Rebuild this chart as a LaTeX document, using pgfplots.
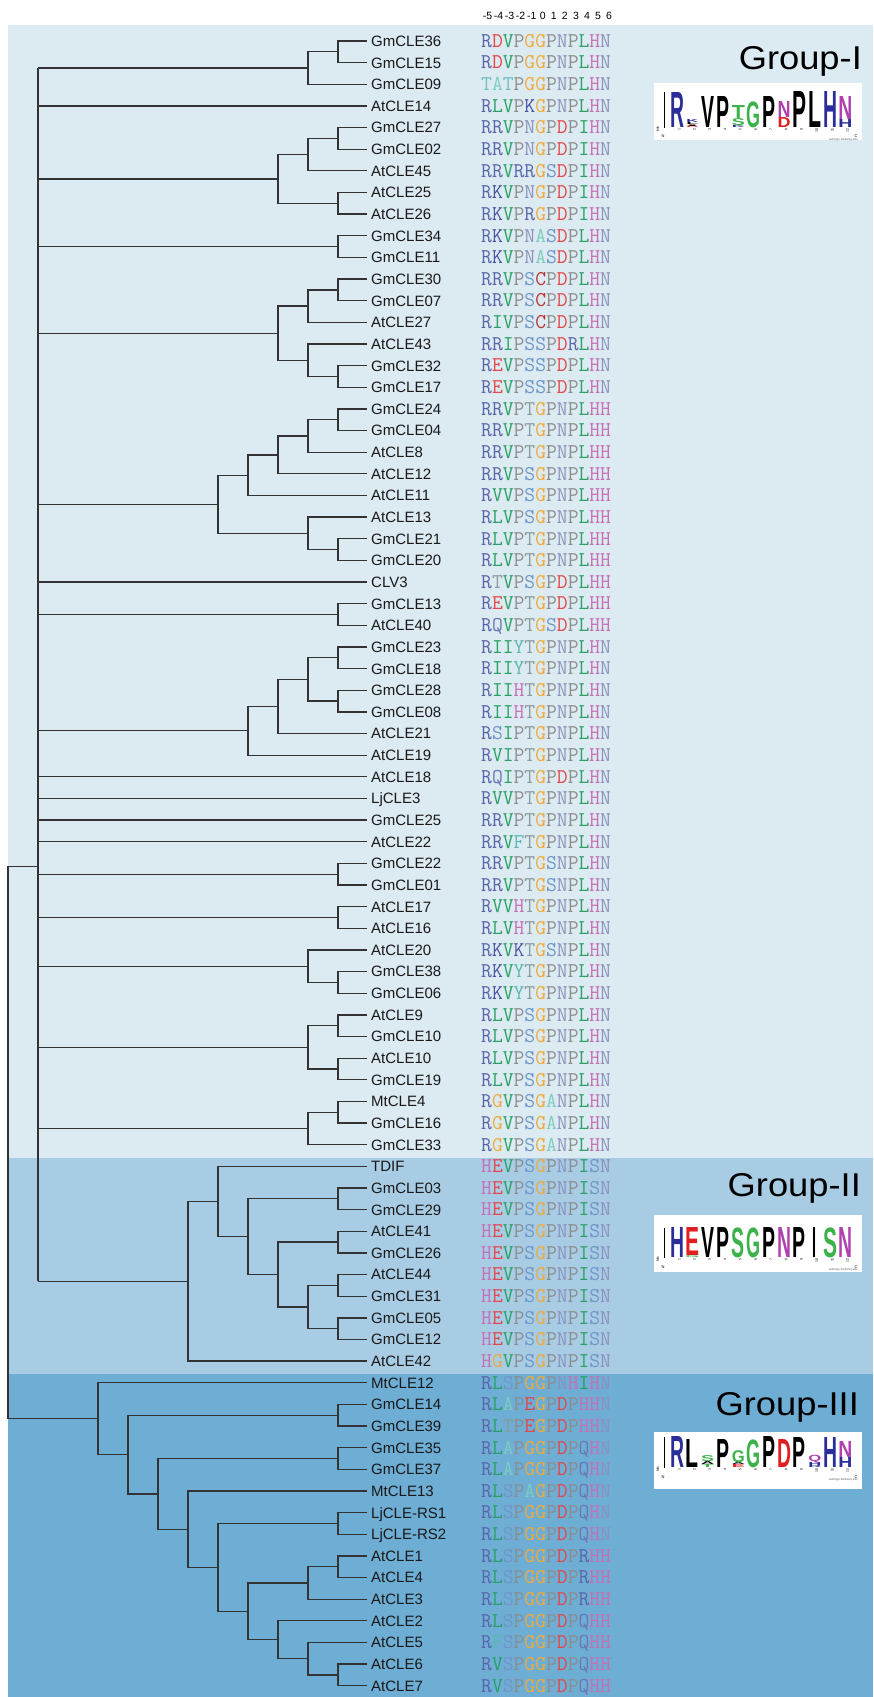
\documentclass[border=0pt]{standalone}
\usepackage{pgfplots}
\pgfplotsset{compat=1.18}
\usepackage{graphicx}
\usepackage{fontspec}
\setmainfont{Liberation Sans}

\definecolor{gI}{HTML}{DCEAF1}
\definecolor{gII}{HTML}{A8CCE4}
\definecolor{gIII}{HTML}{6EADD4}
\definecolor{treec}{HTML}{333333}
% residue colours of the alignment
\definecolor{sR}{HTML}{5A64AA}
\definecolor{sK}{HTML}{4650A0}
\definecolor{sD}{HTML}{E64646}
\definecolor{sE}{HTML}{E64646}
\definecolor{sC}{HTML}{B83232}
\definecolor{sV}{HTML}{28A064}
\definecolor{sL}{HTML}{28A064}
\definecolor{sI}{HTML}{28A064}
\definecolor{sP}{HTML}{8C8C8C}
\definecolor{sG}{HTML}{F0AA3C}
\definecolor{sN}{HTML}{8C90BE}
\definecolor{sH}{HTML}{C86EB4}
\definecolor{sT}{HTML}{8C9A9C}
\definecolor{st}{HTML}{6EBEBE}
\definecolor{sS}{HTML}{6E96C8}
\definecolor{sA}{HTML}{7CCDC0}
\definecolor{sQ}{HTML}{6A78B4}
\definecolor{sY}{HTML}{5AB8B0}
\definecolor{sF}{HTML}{5AB8B0}
% logo colours
\definecolor{lB}{HTML}{2A2E9A}
\definecolor{lR}{HTML}{E02020}
\definecolor{lG}{HTML}{3CB34A}
\definecolor{lM}{HTML}{B040B0}
\definecolor{lK}{HTML}{000000}

\def\seq#1{\seqloop#1\relax}
\def\seqloop#1{\ifx\relax#1\else\textcolor{s#1}{\uppercase{#1}}\expandafter\seqloop\fi}

\pgfplotsset{tree/.style={draw=treec, line width=1.3pt, no markers, line join=miter}}
\newcommand{\Ub}[5]{\addplot[tree] coordinates {(#1,#2) (#3,#2) (#3,#4) (#5,#4)};}
\newcommand{\Hl}[3]{\addplot[tree] coordinates {(#1,#3) (#2,#3)};}
\newcommand{\leaf}[3]{%
 \node[anchor=base west, inner sep=0pt, yshift=-5.4pt, font=\fontsize{15}{18}\selectfont, text=black!90] at (axis cs:371,#1) {#2};
 \node[anchor=base west, inner sep=0pt, yshift=-6.3pt, font=\ttfamily\fontsize{21}{24}\selectfont] at (axis cs:481,#1) {\seq{#3}};}
\newcommand{\hd}[2]{\node[anchor=base, inner sep=0pt, font=\fontsize{10.5}{12}\selectfont] at (axis cs:#1,0) {#2};}
% logo letter: x-centre, baseline row, bottom offset, width, height, colour, letter
\newcommand{\lgl}[7]{\node[anchor=south, inner sep=0pt, yshift=#3pt] at (axis cs:#1,#2) {\resizebox*{#4pt}{#5pt}{\color{#6}\bfseries #7}};}
\newcommand{\grp}[3]{\node[anchor=base east, inner sep=0pt, font=\fontsize{33}{36}\selectfont] at (axis cs:#1,#2) {\scalebox{1.1}[1]{#3}};}
% logo frame: box top row, box bottom row, baseline row, axis top row
\newcommand{\logoframe}[4]{%
 \addplot[fill=white, draw=none] coordinates {(654,#1) (862,#1) (862,#2) (654,#2)};
 \addplot[black, line width=0.5pt] coordinates {(664,#3) (664,#4)};
 \node[anchor=south, rotate=90, inner sep=0pt, font=\fontsize{3.5}{4}\selectfont, xshift=-1pt] at (axis cs:659,#3) {bits};
 \node[anchor=north, inner sep=0pt, yshift=-7pt, font=\fontsize{4}{4}\selectfont] at (axis cs:663,#3) {N};
 \node[anchor=north, inner sep=0pt, yshift=-7pt, font=\fontsize{4}{4}\selectfont] at (axis cs:856,#3) {C};
 \node[anchor=north east, inner sep=0pt, yshift=-10pt, font=\fontsize{3}{3}\selectfont, text=black!60] at (axis cs:858,#3) {weblogo.berkeley.edu};
 \node[anchor=east, rotate=90, inner sep=0pt, yshift=-2pt, font=\fontsize{3.5}{4}\selectfont] at (axis cs:677,#3) {1};
 \node[anchor=east, rotate=90, inner sep=0pt, yshift=-2pt, font=\fontsize{3.5}{4}\selectfont] at (axis cs:692.3,#3) {2};
 \node[anchor=east, rotate=90, inner sep=0pt, yshift=-2pt, font=\fontsize{3.5}{4}\selectfont] at (axis cs:707.6,#3) {3};
 \node[anchor=east, rotate=90, inner sep=0pt, yshift=-2pt, font=\fontsize{3.5}{4}\selectfont] at (axis cs:722.9,#3) {4};
 \node[anchor=east, rotate=90, inner sep=0pt, yshift=-2pt, font=\fontsize{3.5}{4}\selectfont] at (axis cs:738.2,#3) {5};
 \node[anchor=east, rotate=90, inner sep=0pt, yshift=-2pt, font=\fontsize{3.5}{4}\selectfont] at (axis cs:753.5,#3) {6};
 \node[anchor=east, rotate=90, inner sep=0pt, yshift=-2pt, font=\fontsize{3.5}{4}\selectfont] at (axis cs:768.8,#3) {7};
 \node[anchor=east, rotate=90, inner sep=0pt, yshift=-2pt, font=\fontsize{3.5}{4}\selectfont] at (axis cs:784.1,#3) {8};
 \node[anchor=east, rotate=90, inner sep=0pt, yshift=-2pt, font=\fontsize{3.5}{4}\selectfont] at (axis cs:799.4,#3) {9};
 \node[anchor=east, rotate=90, inner sep=0pt, yshift=-2pt, font=\fontsize{3.5}{4}\selectfont] at (axis cs:814.7,#3) {10};
 \node[anchor=east, rotate=90, inner sep=0pt, yshift=-2pt, font=\fontsize{3.5}{4}\selectfont] at (axis cs:830,#3) {11};
 \node[anchor=east, rotate=90, inner sep=0pt, yshift=-2pt, font=\fontsize{3.5}{4}\selectfont] at (axis cs:845.3,#3) {12};}

\begin{document}
\begin{tikzpicture}
\begin{axis}[x=1pt, y=21.64pt, y dir=reverse, xmin=0, xmax=873, ymin=-0.8946, ymax=77.52,
  hide axis, clip=false]
% backgrounds
\addplot[fill=white, draw=none] coordinates {(0,-0.8946) (873,-0.8946) (873,77.52) (0,77.52)};
\addplot[fill=gI, draw=none] coordinates {(8,0.2606) (873,0.2606) (873,52.63) (8,52.63)};
\addplot[fill=gII, draw=none] coordinates {(8,52.63) (873,52.63) (873,62.61) (8,62.61)};
\addplot[fill=gIII, draw=none] coordinates {(8,62.61) (873,62.61) (873,77.52) (8,77.52)};

% ---------------- tree: Group I ----------------
\Ub{367}{1}{338}{2}{367} \Ub{338}{1.5}{308}{3}{367} \Hl{38}{308}{2.25}
\Hl{38}{367}{4}
\Ub{367}{5}{338}{6}{367} \Ub{338}{5.5}{308}{7}{367} \Ub{367}{8}{338}{9}{367} \Ub{308}{6.25}{278}{8.5}{338} \Hl{38}{278}{7.375}
\Ub{367}{10}{338}{11}{367} \Hl{38}{338}{10.5}
\Ub{367}{12}{338}{13}{367} \Ub{338}{12.5}{308}{14}{367} \Ub{367}{16}{338}{17}{367} \Ub{367}{15}{308}{16.5}{338} \Ub{308}{13.25}{278}{15.75}{308} \Hl{38}{278}{14.5}
\Ub{367}{18}{338}{19}{367} \Ub{338}{18.5}{308}{20}{367} \Ub{308}{19.25}{278}{21}{367} \Ub{278}{20.125}{248}{22}{367}
\Ub{367}{24}{338}{25}{367} \Ub{367}{23}{308}{24.5}{338} \Ub{248}{21.0625}{218}{23.75}{308} \Hl{38}{218}{22.40625}
\Hl{38}{367}{26}
\Ub{367}{27}{338}{28}{367} \Hl{38}{338}{27.5}
\Ub{367}{29}{338}{30}{367} \Ub{367}{31}{338}{32}{367} \Ub{338}{29.5}{308}{31.5}{338} \Ub{308}{30.5}{278}{33}{367} \Ub{278}{31.75}{248}{34}{367} \Hl{38}{248}{32.875}
\Hl{38}{367}{35} \Hl{38}{367}{36} \Hl{38}{367}{37} \Hl{38}{367}{38}
\Ub{367}{39}{338}{40}{367} \Hl{38}{338}{39.5}
\Ub{367}{41}{338}{42}{367} \Hl{38}{338}{41.5}
\Ub{367}{44}{338}{45}{367} \Ub{367}{43}{308}{44.5}{338} \Hl{38}{308}{43.75}
\Ub{367}{46}{338}{47}{367} \Ub{367}{48}{338}{49}{367} \Ub{338}{46.5}{308}{48.5}{338} \Hl{38}{308}{47.5}
\Ub{367}{50}{338}{51}{367} \Ub{338}{50.5}{308}{52}{367} \Hl{38}{308}{51.25}
% ---------------- Group II ----------------
\Ub{367}{54}{338}{55}{367} \Ub{367}{56}{338}{57}{367} \Ub{367}{58}{338}{59}{367} \Ub{367}{60}{338}{61}{367}
\Ub{338}{58.5}{308}{60.5}{338} \Ub{338}{56.5}{278}{59.5}{308} \Ub{338}{54.5}{248}{58}{278}
\Ub{367}{53}{218}{56.25}{248} \Ub{218}{54.625}{188}{62}{367} \Hl{38}{188}{58.3125}
% polytomy and root
\addplot[tree] coordinates {(38,2.25) (38,58.3125)};
\Ub{38}{39.16}{8}{64.658}{98}
% ---------------- Group III ----------------
\Ub{367}{76}{338}{77}{367} \Ub{367}{75}{308}{76.5}{338} \Ub{367}{74}{278}{75.75}{308}
\Ub{367}{71}{338}{72}{367} \Ub{338}{71.5}{308}{73}{367} \Ub{308}{72.25}{248}{74.875}{278}
\Ub{367}{69}{338}{70}{367} \Ub{338}{69.5}{218}{73.5625}{248} \Ub{367}{68}{188}{71.53125}{218}
\Ub{367}{66}{338}{67}{367} \Ub{338}{66.5}{158}{69.765625}{188}
\Ub{367}{64}{338}{65}{367} \Ub{338}{64.5}{128}{68.1328}{158}
\Ub{367}{63}{98}{66.3164}{128}

% ---------------- header ----------------
\hd{487.5}{-5}\hd{498.6}{-4}\hd{509.6}{-3}\hd{520.6}{-2}\hd{531.7}{-1}\hd{542.7}{0}
\hd{553.8}{1}\hd{564.8}{2}\hd{575.9}{3}\hd{586.9}{4}\hd{598.0}{5}\hd{609.0}{6}

% ---------------- leaves ----------------
\leaf{1}{GmCLE36}{RDVPGGPNPLHN}
\leaf{2}{GmCLE15}{RDVPGGPNPLHN}
\leaf{3}{GmCLE09}{tAtPGGPNPLHN}
\leaf{4}{AtCLE14}{RLVPKGPNPLHN}
\leaf{5}{GmCLE27}{RRVPNGPDPIHN}
\leaf{6}{GmCLE02}{RRVPNGPDPIHN}
\leaf{7}{AtCLE45}{RRVRRGSDPIHN}
\leaf{8}{AtCLE25}{RKVPNGPDPIHN}
\leaf{9}{AtCLE26}{RKVPRGPDPIHN}
\leaf{10}{GmCLE34}{RKVPNASDPLHN}
\leaf{11}{GmCLE11}{RKVPNASDPLHN}
\leaf{12}{GmCLE30}{RRVPSCPDPLHN}
\leaf{13}{GmCLE07}{RRVPSCPDPLHN}
\leaf{14}{AtCLE27}{RIVPSCPDPLHN}
\leaf{15}{AtCLE43}{RRIPSSPDRLHN}
\leaf{16}{GmCLE32}{REVPSSPDPLHN}
\leaf{17}{GmCLE17}{REVPSSPDPLHN}
\leaf{18}{GmCLE24}{RRVPTGPNPLHH}
\leaf{19}{GmCLE04}{RRVPTGPNPLHH}
\leaf{20}{AtCLE8}{RRVPTGPNPLHH}
\leaf{21}{AtCLE12}{RRVPSGPNPLHH}
\leaf{22}{AtCLE11}{RVVPSGPNPLHH}
\leaf{23}{AtCLE13}{RLVPSGPNPLHH}
\leaf{24}{GmCLE21}{RLVPTGPNPLHH}
\leaf{25}{GmCLE20}{RLVPTGPNPLHH}
\leaf{26}{CLV3}{RTVPSGPDPLHH}
\leaf{27}{GmCLE13}{REVPTGPDPLHH}
\leaf{28}{AtCLE40}{RQVPTGSDPLHH}
\leaf{29}{GmCLE23}{RIIYTGPNPLHN}
\leaf{30}{GmCLE18}{RIIYTGPNPLHN}
\leaf{31}{GmCLE28}{RIIHTGPNPLHN}
\leaf{32}{GmCLE08}{RIIHTGPNPLHN}
\leaf{33}{AtCLE21}{RSIPTGPNPLHN}
\leaf{34}{AtCLE19}{RVIPTGPNPLHN}
\leaf{35}{AtCLE18}{RQIPTGPDPLHN}
\leaf{36}{LjCLE3}{RVVPTGPNPLHN}
\leaf{37}{GmCLE25}{RRVPTGPNPLHN}
\leaf{38}{AtCLE22}{RRVFTGPNPLHN}
\leaf{39}{GmCLE22}{RRVPTGSNPLHN}
\leaf{40}{GmCLE01}{RRVPTGSNPLHN}
\leaf{41}{AtCLE17}{RVVHTGPNPLHN}
\leaf{42}{AtCLE16}{RLVHTGPNPLHN}
\leaf{43}{AtCLE20}{RKVKTGSNPLHN}
\leaf{44}{GmCLE38}{RKVYTGPNPLHN}
\leaf{45}{GmCLE06}{RKVYTGPNPLHN}
\leaf{46}{AtCLE9}{RLVPSGPNPLHN}
\leaf{47}{GmCLE10}{RLVPSGPNPLHN}
\leaf{48}{AtCLE10}{RLVPSGPNPLHN}
\leaf{49}{GmCLE19}{RLVPSGPNPLHN}
\leaf{50}{MtCLE4}{RGVPSGANPLHN}
\leaf{51}{GmCLE16}{RGVPSGANPLHN}
\leaf{52}{GmCLE33}{RGVPSGANPLHN}
\leaf{53}{TDIF}{HEVPSGPNPISN}
\leaf{54}{GmCLE03}{HEVPSGPNPISN}
\leaf{55}{GmCLE29}{HEVPSGPNPISN}
\leaf{56}{AtCLE41}{HEVPSGPNPISN}
\leaf{57}{GmCLE26}{HEVPSGPNPISN}
\leaf{58}{AtCLE44}{HEVPSGPNPISN}
\leaf{59}{GmCLE31}{HEVPSGPNPISN}
\leaf{60}{GmCLE05}{HEVPSGPNPISN}
\leaf{61}{GmCLE12}{HEVPSGPNPISN}
\leaf{62}{AtCLE42}{HGVPSGPNPISN}
\leaf{63}{MtCLE12}{RLSPGGPNHIHN}
\leaf{64}{GmCLE14}{RLAPEGPDPHHN}
\leaf{65}{GmCLE39}{RLTPEGPDPHHN}
\leaf{66}{GmCLE35}{RLAPGGPDPQHN}
\leaf{67}{GmCLE37}{RLAPGGPDPQHN}
\leaf{68}{MtCLE13}{RLSPAGPDPQHN}
\leaf{69}{LjCLE-RS1}{RLSPGGPDPQHN}
\leaf{70}{LjCLE-RS2}{RLSPGGPDPQHN}
\leaf{71}{AtCLE1}{RLSPGGPDPRHH}
\leaf{72}{AtCLE4}{RLSPGGPDPRHH}
\leaf{73}{AtCLE3}{RLSPGGPDPRHH}
\leaf{74}{AtCLE2}{RLSPGGPDPQHH}
\leaf{75}{AtCLE5}{RFSPGGPDPQHH}
\leaf{76}{AtCLE6}{RVSPGGPDPQHH}
\leaf{77}{AtCLE7}{RVSPGGPDPQHH}

% ---------------- group labels ----------------
\grp{862}{2.308}{Group-I}
\grp{861}{54.41}{Group-II}
\grp{859}{64.49}{Group-III}

% ---------------- logos ----------------
\logoframe{2.941}{5.575}{5.020}{3.357}
\logoframe{55.25}{57.89}{57.24}{55.85}
\logoframe{65.28}{67.91}{66.94}{65.51}
% logo I
\lgl{677}{5.020}{0}{14}{35}{lB}{R}
\lgl{692.3}{5.020}{0}{12}{1.5}{lR}{D}
\lgl{692.3}{5.020}{1.5}{12}{1.5}{lK}{I}
\lgl{692.3}{5.020}{3}{12}{2}{lK}{L}
\lgl{692.3}{5.020}{5}{12}{3}{lB}{K}
\lgl{707.6}{5.020}{0}{13}{31}{lK}{V}
\lgl{722.9}{5.020}{0}{13}{31}{lK}{P}
\lgl{738.2}{5.020}{0}{13}{2}{lB}{K}
\lgl{738.2}{5.020}{2}{13}{7}{lG}{S}
\lgl{738.2}{5.020}{9}{13}{13}{lG}{T}
\lgl{753.5}{5.020}{0}{14}{26}{lG}{G}
\lgl{768.8}{5.020}{0}{13}{31}{lK}{P}
\lgl{784.1}{5.020}{0}{13}{10}{lR}{D}
\lgl{784.1}{5.020}{10}{13}{16}{lM}{N}
\lgl{799.4}{5.020}{0}{14}{36}{lK}{P}
\lgl{814.7}{5.020}{0}{13}{36}{lK}{L}
\lgl{830}{5.020}{0}{14}{36}{lB}{H}
\lgl{845.3}{5.020}{0}{14}{8}{lB}{H}
\lgl{845.3}{5.020}{8}{14}{23}{lM}{N}
% logo II
\lgl{677}{57.24}{0}{14}{30}{lB}{H}
\lgl{692.3}{57.24}{0}{14}{2}{lG}{G}
\lgl{692.3}{57.24}{2}{14}{28}{lR}{E}
\lgl{707.6}{57.24}{0}{13}{30}{lK}{V}
\lgl{722.9}{57.24}{0}{13}{30}{lK}{P}
\lgl{738.2}{57.24}{0}{13}{30}{lG}{S}
\lgl{753.5}{57.24}{0}{14}{30}{lG}{G}
\lgl{768.8}{57.24}{0}{13}{30}{lK}{P}
\lgl{784.1}{57.24}{0}{14}{30}{lM}{N}
\lgl{799.4}{57.24}{0}{13}{30}{lK}{P}
\lgl{814.7}{57.24}{0}{4}{30}{lK}{I}
\lgl{830}{57.24}{0}{14}{30}{lG}{S}
\lgl{845.3}{57.24}{0}{14}{30}{lM}{N}
% logo III
\lgl{677}{66.94}{0}{14}{31}{lB}{R}
\lgl{692.3}{66.94}{0}{13}{28}{lK}{L}
\lgl{707.6}{66.94}{0}{13}{3}{lG}{T}
\lgl{707.6}{66.94}{3}{13}{3}{lK}{A}
\lgl{707.6}{66.94}{6}{13}{6}{lG}{S}
\lgl{722.9}{66.94}{0}{13}{28}{lK}{P}
\lgl{738.2}{66.94}{0}{13}{3}{lR}{E}
\lgl{738.2}{66.94}{3}{13}{2}{lK}{A}
\lgl{738.2}{66.94}{5}{13}{12}{lG}{G}
\lgl{753.5}{66.94}{0}{14}{28}{lG}{G}
\lgl{768.8}{66.94}{0}{13}{31}{lK}{P}
\lgl{784.1}{66.94}{0}{14}{28}{lR}{D}
\lgl{799.4}{66.94}{0}{13}{30}{lK}{P}
\lgl{814.7}{66.94}{0}{13}{2}{lB}{R}
\lgl{814.7}{66.94}{2}{13}{3}{lB}{H}
\lgl{814.7}{66.94}{5}{13}{8}{lM}{Q}
\lgl{830}{66.94}{0}{14}{30}{lB}{H}
\lgl{845.3}{66.94}{0}{14}{10}{lB}{H}
\lgl{845.3}{66.94}{10}{14}{16}{lM}{N}
\end{axis}
\end{tikzpicture}
\end{document}
